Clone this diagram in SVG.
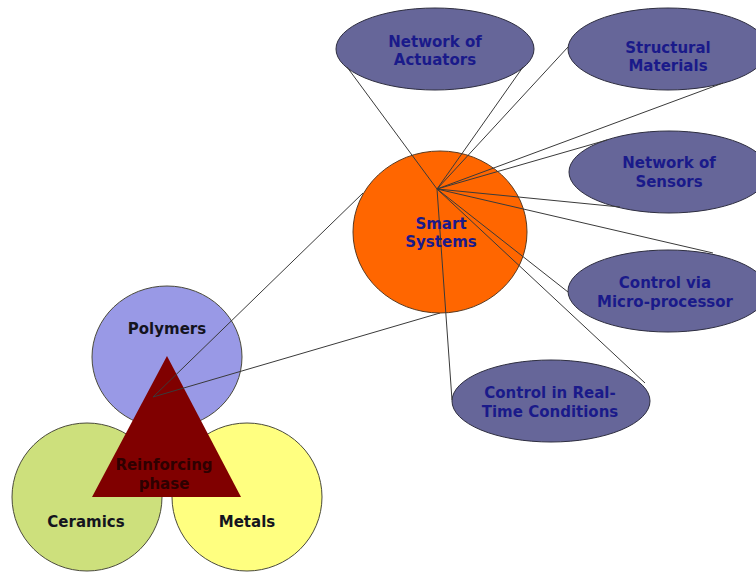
<svg xmlns="http://www.w3.org/2000/svg" width="756" height="572" viewBox="0 0 756 572">
<style>
.bg{fill:#ffffff}
.oval{fill:#666699;stroke:#2e2e40;stroke-width:1}
.lbl{font-family:"DejaVu Sans",Verdana,sans-serif;font-weight:bold;font-size:15px;text-anchor:middle;fill:#1a1a8a}
.dark{font-family:"DejaVu Sans",Verdana,sans-serif;font-weight:bold;font-size:15px;text-anchor:middle;fill:#14141e}
.red{fill:#2e0000}
.conn line{stroke:#3a3a3a;stroke-width:1}
.circ{stroke:#4a4a3a;stroke-width:1}
</style>
<rect class="bg" x="0" y="0" width="756" height="572"/>

<g id="polymers">
<ellipse class="circ" cx="167" cy="357" rx="75" ry="71" fill="#9999e6"/>
<text class="dark" x="167" y="334">Polymers</text>
</g>
<g id="ceramics">
<ellipse class="circ" cx="87" cy="497" rx="75" ry="74" fill="#cde07c"/>
<text class="dark" x="86" y="527">Ceramics</text>
</g>
<g id="metals">
<ellipse class="circ" cx="247" cy="497" rx="75" ry="74" fill="#ffff80"/>
<text class="dark" x="247" y="527">Metals</text>
</g>
<g id="reinforcing">
<polygon points="167,356 92,497 241,497" fill="#800000"/>
<text class="dark red" x="164" y="470">Reinforcing</text>
<text class="dark red" x="164" y="489">phase</text>
</g>

<g id="connectors-composite" class="conn">
<line x1="153" y1="397" x2="363" y2="193"/>
<line x1="153" y1="397" x2="440" y2="313"/>
</g>

<g id="smart">
<ellipse cx="440" cy="232" rx="87" ry="81" fill="#ff6600" stroke="#5a3a20" stroke-width="1"/>
</g>

<g id="actuators">
<ellipse class="oval" cx="435" cy="49" rx="99" ry="41"/>
<text class="lbl" x="435" y="47">Network of</text>
<text class="lbl" x="435" y="65">Actuators</text>
</g>
<g id="structural">
<ellipse class="oval" cx="668" cy="49" rx="100" ry="41"/>
<text class="lbl" x="668" y="53">Structural</text>
<text class="lbl" x="668" y="71">Materials</text>
</g>
<g id="sensors">
<ellipse class="oval" cx="669" cy="172" rx="100" ry="41"/>
<text class="lbl" x="669" y="168">Network of</text>
<text class="lbl" x="669" y="187">Sensors</text>
</g>
<g id="microprocessor">
<ellipse class="oval" cx="668" cy="291" rx="100" ry="41"/>
<text class="lbl" x="665" y="288">Control via</text>
<text class="lbl" x="665" y="307">Micro-processor</text>
</g>
<g id="realtime">
<ellipse class="oval" cx="551" cy="401" rx="99" ry="41"/>
<text class="lbl" x="550" y="398">Control in Real-</text>
<text class="lbl" x="550" y="417">Time Conditions</text>
</g>

<g id="connectors" class="conn">
<line x1="437" y1="189" x2="347" y2="67"/>
<line x1="437" y1="189" x2="523" y2="67"/>
<line x1="437" y1="189" x2="568" y2="47"/>
<line x1="437" y1="189" x2="723" y2="83"/>
<line x1="437" y1="189" x2="607" y2="140"/>
<line x1="437" y1="189" x2="620" y2="207"/>
<line x1="437" y1="189" x2="713" y2="253"/>
<line x1="437" y1="189" x2="568" y2="292"/>
<line x1="437" y1="189" x2="645" y2="383"/>
<line x1="437" y1="189" x2="452" y2="400"/>
</g>

<g id="smart-label">
<text class="lbl" x="441" y="229">Smart</text>
<text class="lbl" x="441" y="247">Systems</text>
</g>
</svg>
